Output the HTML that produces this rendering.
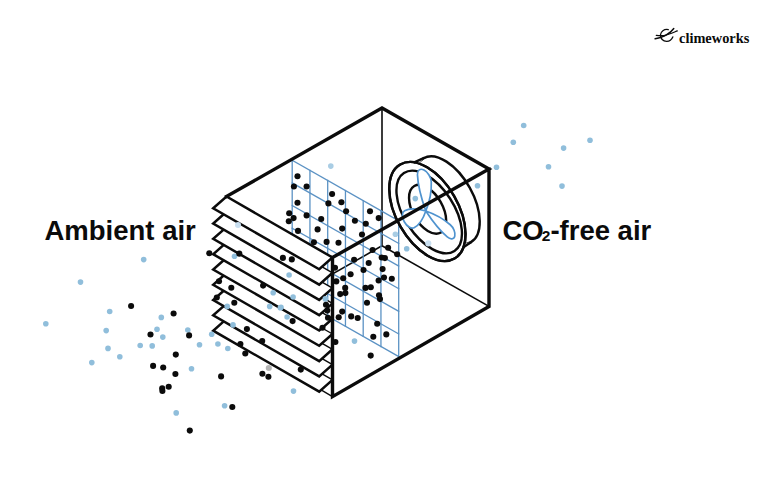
<!DOCTYPE html>
<html><head><meta charset="utf-8"><style>
html,body{margin:0;padding:0;background:#fff;}
body{width:772px;height:494px;position:relative;overflow:hidden;}
.t{position:absolute;font-family:"Liberation Sans",sans-serif;font-weight:bold;color:#0b0b0b;white-space:nowrap;line-height:1;}
#amb{left:44.5px;top:217px;font-size:27.5px;}
#co2{left:502.5px;top:217px;font-size:27.5px;}
#co2 sub{font-size:15.5px;vertical-align:baseline;position:relative;top:1px;margin:0 0 0 -2px;}
#cw{left:679px;top:30.8px;font-family:"Liberation Serif",serif;font-size:14.4px;letter-spacing:0px;}
</style></head><body>
<svg width="772" height="494" viewBox="0 0 772 494" style="position:absolute;left:0;top:0"><line x1="382" y1="108" x2="382" y2="245.8" stroke="#0b0b0b" stroke-width="1.6" /><line x1="382" y1="245.8" x2="489" y2="306.4" stroke="#0b0b0b" stroke-width="1.6" /><line x1="382" y1="245.8" x2="226.5" y2="334.2" stroke="#0b0b0b" stroke-width="1.6" /><g stroke-linecap="square"><line x1="292.2" y1="160.3" x2="292.2" y2="296.1" stroke="#5b92c4" stroke-width="1.3" /><line x1="309.95" y1="170.38" x2="309.95" y2="306.18" stroke="#5b92c4" stroke-width="1.3" /><line x1="327.7" y1="180.47" x2="327.7" y2="316.27" stroke="#5b92c4" stroke-width="1.3" /><line x1="345.45" y1="190.55" x2="345.45" y2="326.35" stroke="#5b92c4" stroke-width="1.3" /><line x1="363.2" y1="200.63" x2="363.2" y2="336.43" stroke="#5b92c4" stroke-width="1.3" /><line x1="380.95" y1="210.72" x2="380.95" y2="346.52" stroke="#5b92c4" stroke-width="1.3" /><line x1="398.7" y1="220.8" x2="398.7" y2="356.6" stroke="#5b92c4" stroke-width="1.3" /><line x1="292.2" y1="160.3" x2="398.7" y2="220.8" stroke="#5b92c4" stroke-width="1.3" /><line x1="292.2" y1="182.93" x2="398.7" y2="243.43" stroke="#5b92c4" stroke-width="1.3" /><line x1="292.2" y1="205.57" x2="398.7" y2="266.07" stroke="#5b92c4" stroke-width="1.3" /><line x1="292.2" y1="228.2" x2="398.7" y2="288.7" stroke="#5b92c4" stroke-width="1.3" /><line x1="292.2" y1="250.83" x2="398.7" y2="311.33" stroke="#5b92c4" stroke-width="1.3" /><line x1="292.2" y1="273.47" x2="398.7" y2="333.97" stroke="#5b92c4" stroke-width="1.3" /><line x1="292.2" y1="296.1" x2="398.7" y2="356.6" stroke="#5b92c4" stroke-width="1.3" /></g><g><ellipse cx="0" cy="0" rx="48.2" ry="25.9" transform="translate(447.1 200.3) rotate(60.8)" fill="#fff" stroke="#0b0b0b" stroke-width="2.4"/><ellipse cx="0" cy="0" rx="54.3" ry="30.9" transform="translate(427.4 211.5) rotate(60)" fill="#fff" stroke="#0b0b0b" stroke-width="2.4"/><path d="M414.26,162.38 L424.19,157.91 L418.26,163.35Z" fill="#fff" stroke="#fff" stroke-width="0.6"/><path d="M414.26,162.38 L424.19,157.91" stroke="#0b0b0b" stroke-width="2.4" stroke-linecap="round" fill="none"/><path d="M463.43,247.29 L470.91,242.21 L464.38,244.19Z" fill="#fff" stroke="#fff" stroke-width="0.6"/><path d="M463.43,247.29 L470.91,242.21" stroke="#0b0b0b" stroke-width="2.4" stroke-linecap="round" fill="none"/><ellipse cx="0" cy="0" rx="54.3" ry="30.9" transform="translate(427.4 211.5) rotate(60)" fill="none" stroke="#0b0b0b" stroke-width="2.4"/><ellipse cx="0" cy="0" rx="46.42" ry="24.82" transform="translate(429.2 212) rotate(57)" fill="none" stroke="#0b0b0b" stroke-width="2.4"/><ellipse cx="0" cy="0" rx="26.77" ry="14.96" transform="translate(427.6 209.3) rotate(60.3)" fill="none" stroke="#0b0b0b" stroke-width="2.4"/><g><path d="M0,0 C8,-3.6 19.2,-8 32,-8 A8,8 0 0 1 32,8 C19.2,8 8,3.6 0,0Z" transform="matrix(0.866 0.5 0 1 425.8 211) rotate(-93)" fill="#fff" stroke="#4f93cf" stroke-width="1.7" vector-effect="non-scaling-stroke"/><path d="M0,0 C6.83,-3.24 16.38,-7.2 27.3,-7.2 A7.2,7.2 0 0 1 27.3,7.2 C16.38,7.2 6.83,3.24 0,0Z" transform="matrix(0.866 0.5 0 1 425.8 211) rotate(14)" fill="#fff" stroke="#4f93cf" stroke-width="1.7" vector-effect="non-scaling-stroke"/><path d="M0,0 C6.5,-3.6 15.6,-8 26,-8 A8,8 0 0 1 26,8 C15.6,8 6.5,3.6 0,0Z" transform="matrix(0.866 0.5 0 1 425.8 211) rotate(137)" fill="#fff" stroke="#4f93cf" stroke-width="1.7" vector-effect="non-scaling-stroke"/></g></g><g><line x1="226.5" y1="334.2" x2="332.5" y2="396.6" stroke="#0b0b0b" stroke-width="1.4" /><path d="M226.5,318.9 L332.5,379.9 L319.2,391.7 L213.2,330.7Z" fill="#fff" stroke="none"/><path d="M226.5,318.9 L213.2,330.7 L319.2,391.7 L332.5,379.9" fill="none" stroke="#0b0b0b" stroke-width="2.5" stroke-linejoin="miter"/><line x1="226.5" y1="318.9" x2="332.5" y2="379.9" stroke="#0b0b0b" stroke-width="1.4" /><path d="M226.5,303.6 L332.5,364.6 L319.2,376.4 L213.2,315.4Z" fill="#fff" stroke="none"/><path d="M226.5,303.6 L213.2,315.4 L319.2,376.4 L332.5,364.6" fill="none" stroke="#0b0b0b" stroke-width="2.5" stroke-linejoin="miter"/><line x1="226.5" y1="303.6" x2="332.5" y2="364.6" stroke="#0b0b0b" stroke-width="1.4" /><path d="M226.5,288.3 L332.5,349.3 L319.2,361.1 L213.2,300.1Z" fill="#fff" stroke="none"/><path d="M226.5,288.3 L213.2,300.1 L319.2,361.1 L332.5,349.3" fill="none" stroke="#0b0b0b" stroke-width="2.5" stroke-linejoin="miter"/><line x1="226.5" y1="288.3" x2="332.5" y2="349.3" stroke="#0b0b0b" stroke-width="1.4" /><path d="M226.5,273 L332.5,334 L319.2,345.8 L213.2,284.8Z" fill="#fff" stroke="none"/><path d="M226.5,273 L213.2,284.8 L319.2,345.8 L332.5,334" fill="none" stroke="#0b0b0b" stroke-width="2.5" stroke-linejoin="miter"/><line x1="226.5" y1="273" x2="332.5" y2="334" stroke="#0b0b0b" stroke-width="1.4" /><path d="M226.5,257.7 L332.5,318.7 L319.2,330.5 L213.2,269.5Z" fill="#fff" stroke="none"/><path d="M226.5,257.7 L213.2,269.5 L319.2,330.5 L332.5,318.7" fill="none" stroke="#0b0b0b" stroke-width="2.5" stroke-linejoin="miter"/><line x1="226.5" y1="257.7" x2="332.5" y2="318.7" stroke="#0b0b0b" stroke-width="1.4" /><path d="M226.5,242.4 L332.5,303.4 L319.2,315.2 L213.2,254.2Z" fill="#fff" stroke="none"/><path d="M226.5,242.4 L213.2,254.2 L319.2,315.2 L332.5,303.4" fill="none" stroke="#0b0b0b" stroke-width="2.5" stroke-linejoin="miter"/><line x1="226.5" y1="242.4" x2="332.5" y2="303.4" stroke="#0b0b0b" stroke-width="1.4" /><path d="M226.5,227.1 L332.5,288.1 L319.2,299.9 L213.2,238.9Z" fill="#fff" stroke="none"/><path d="M226.5,227.1 L213.2,238.9 L319.2,299.9 L332.5,288.1" fill="none" stroke="#0b0b0b" stroke-width="2.5" stroke-linejoin="miter"/><line x1="226.5" y1="227.1" x2="332.5" y2="288.1" stroke="#0b0b0b" stroke-width="1.4" /><path d="M226.5,211.8 L332.5,272.8 L319.2,284.6 L213.2,223.6Z" fill="#fff" stroke="none"/><path d="M226.5,211.8 L213.2,223.6 L319.2,284.6 L332.5,272.8" fill="none" stroke="#0b0b0b" stroke-width="2.5" stroke-linejoin="miter"/><line x1="226.5" y1="211.8" x2="332.5" y2="272.8" stroke="#0b0b0b" stroke-width="1.4" /><path d="M226.5,196.5 L332.5,257.5 L319.2,269.3 L213.2,208.3Z" fill="#fff" stroke="none"/><path d="M213.2,208.3 L226.5,196.5 L332.5,257.5 L319.2,269.3 Z" fill="none" stroke="#0b0b0b" stroke-width="2.5" stroke-linejoin="miter"/></g><path d="M226.5,196.5 L382,108 L489,169 L332.5,257.5 M489,169 L489,306.4 L332.5,396.6 L332.5,257.5" fill="none" stroke="#0b0b0b" stroke-width="3.4" stroke-linejoin="miter" stroke-linecap="square"/><g><circle cx="523.7" cy="125.5" r="2.8" fill="#90bedb"/><circle cx="513.3" cy="142.2" r="2.8" fill="#90bedb"/><circle cx="496.5" cy="167.2" r="2.8" fill="#90bedb"/><circle cx="563.6" cy="148.1" r="2.8" fill="#90bedb"/><circle cx="590" cy="140.2" r="2.8" fill="#90bedb"/><circle cx="548.5" cy="166.8" r="2.8" fill="#90bedb"/><circle cx="562" cy="186.1" r="2.8" fill="#90bedb"/><circle cx="477.5" cy="185.8" r="2.8" fill="#90bedb"/><circle cx="406.7" cy="248.8" r="2.8" fill="#90bedb"/><circle cx="415.3" cy="198.6" r="2.8" fill="#90bedb"/><circle cx="289.1" cy="275" r="2.8" fill="#90bedb"/><circle cx="293.1" cy="297" r="2.8" fill="#90bedb"/><circle cx="281" cy="307.3" r="2.8" fill="#90bedb"/><circle cx="287.1" cy="317" r="2.8" fill="#90bedb"/><circle cx="325.3" cy="298.9" r="2.8" fill="#90bedb"/><circle cx="354.5" cy="341.1" r="2.8" fill="#90bedb"/><circle cx="234.5" cy="256.3" r="2.8" fill="#90bedb"/><circle cx="273.2" cy="292.8" r="2.8" fill="#90bedb"/><circle cx="227.2" cy="306.4" r="2.8" fill="#90bedb"/><circle cx="269.7" cy="306.4" r="2.8" fill="#90bedb"/><circle cx="280.3" cy="307.7" r="2.8" fill="#90bedb"/><circle cx="233" cy="324.9" r="2.8" fill="#90bedb"/><circle cx="211.7" cy="334.3" r="2.8" fill="#90bedb"/><circle cx="199.5" cy="344.7" r="2.8" fill="#90bedb"/><circle cx="217.9" cy="344" r="2.8" fill="#90bedb"/><circle cx="227.8" cy="348.5" r="2.8" fill="#90bedb"/><circle cx="191.5" cy="368.7" r="2.8" fill="#90bedb"/><circle cx="224.6" cy="405.7" r="2.8" fill="#90bedb"/><circle cx="176.2" cy="412.9" r="2.8" fill="#90bedb"/><circle cx="80.5" cy="282.1" r="2.8" fill="#90bedb"/><circle cx="143.7" cy="259.6" r="2.8" fill="#90bedb"/><circle cx="109.7" cy="311.5" r="2.8" fill="#90bedb"/><circle cx="45.8" cy="323.8" r="2.8" fill="#90bedb"/><circle cx="106.2" cy="330.6" r="2.8" fill="#90bedb"/><circle cx="108" cy="348.4" r="2.8" fill="#90bedb"/><circle cx="119.8" cy="356.7" r="2.8" fill="#90bedb"/><circle cx="91.8" cy="362.6" r="2.8" fill="#90bedb"/><circle cx="161.3" cy="317.4" r="2.8" fill="#90bedb"/><circle cx="157" cy="329.3" r="2.8" fill="#90bedb"/><circle cx="162.8" cy="337.1" r="2.8" fill="#90bedb"/><circle cx="187.8" cy="330" r="2.8" fill="#90bedb"/><circle cx="140.2" cy="345.5" r="2.8" fill="#90bedb"/><circle cx="152.2" cy="345.9" r="2.8" fill="#90bedb"/><circle cx="293.5" cy="391.1" r="2.8" fill="#90bedb"/><circle cx="330.8" cy="166.1" r="2.8" fill="#a9cde4"/><circle cx="395.4" cy="234.3" r="2.8" fill="#a9cde4"/><circle cx="428.3" cy="243.4" r="3.05" fill="#c9dff0"/><circle cx="238" cy="225" r="3.05" fill="#c9dff0"/><circle cx="268.8" cy="368" r="3.05" fill="#b5b5b5"/><circle cx="297.5" cy="176.3" r="3.05" fill="#0b0b0b"/><circle cx="293.9" cy="186.5" r="3.05" fill="#0b0b0b"/><circle cx="306.6" cy="186.5" r="3.05" fill="#0b0b0b"/><circle cx="297.5" cy="202.8" r="3.05" fill="#0b0b0b"/><circle cx="332.1" cy="194" r="3.05" fill="#0b0b0b"/><circle cx="328.4" cy="203.4" r="3.05" fill="#0b0b0b"/><circle cx="341.4" cy="202.2" r="3.05" fill="#0b0b0b"/><circle cx="346.1" cy="211.3" r="3.05" fill="#0b0b0b"/><circle cx="370" cy="211.3" r="3.05" fill="#0b0b0b"/><circle cx="289.2" cy="213.3" r="3.05" fill="#0b0b0b"/><circle cx="293.6" cy="218.1" r="3.05" fill="#0b0b0b"/><circle cx="288.8" cy="221.2" r="3.05" fill="#0b0b0b"/><circle cx="306.6" cy="215.4" r="3.05" fill="#0b0b0b"/><circle cx="321.2" cy="219" r="3.05" fill="#0b0b0b"/><circle cx="298" cy="230.9" r="3.05" fill="#0b0b0b"/><circle cx="317.6" cy="229.4" r="3.05" fill="#0b0b0b"/><circle cx="354.9" cy="220.8" r="3.05" fill="#0b0b0b"/><circle cx="365.8" cy="223.8" r="3.05" fill="#0b0b0b"/><circle cx="378.7" cy="218.1" r="3.05" fill="#0b0b0b"/><circle cx="342.2" cy="228.6" r="3.05" fill="#0b0b0b"/><circle cx="362" cy="234.5" r="3.05" fill="#0b0b0b"/><circle cx="313.9" cy="242.3" r="3.05" fill="#0b0b0b"/><circle cx="326.6" cy="241.9" r="3.05" fill="#0b0b0b"/><circle cx="338.5" cy="242.8" r="3.05" fill="#0b0b0b"/><circle cx="372.6" cy="250" r="3.05" fill="#0b0b0b"/><circle cx="354.1" cy="259.7" r="3.05" fill="#0b0b0b"/><circle cx="368.7" cy="263" r="3.05" fill="#0b0b0b"/><circle cx="282.9" cy="257.9" r="3.05" fill="#0b0b0b"/><circle cx="291.8" cy="259.4" r="3.05" fill="#0b0b0b"/><circle cx="388.1" cy="247.7" r="3.05" fill="#0b0b0b"/><circle cx="397.2" cy="254.2" r="3.05" fill="#0b0b0b"/><circle cx="381.7" cy="257.5" r="3.05" fill="#0b0b0b"/><circle cx="384.9" cy="258.1" r="3.05" fill="#0b0b0b"/><circle cx="382.6" cy="269.1" r="3.05" fill="#0b0b0b"/><circle cx="335" cy="267.8" r="3.05" fill="#0b0b0b"/><circle cx="350.6" cy="274.3" r="3.05" fill="#0b0b0b"/><circle cx="343.2" cy="278.2" r="3.05" fill="#0b0b0b"/><circle cx="336.3" cy="281.4" r="3.05" fill="#0b0b0b"/><circle cx="363.5" cy="270" r="3.05" fill="#0b0b0b"/><circle cx="378.6" cy="280.5" r="3.05" fill="#0b0b0b"/><circle cx="345.2" cy="287.9" r="3.05" fill="#0b0b0b"/><circle cx="340.2" cy="294.1" r="3.05" fill="#0b0b0b"/><circle cx="345.4" cy="293.1" r="3.05" fill="#0b0b0b"/><circle cx="365.5" cy="287.9" r="3.05" fill="#0b0b0b"/><circle cx="370.8" cy="287.3" r="3.05" fill="#0b0b0b"/><circle cx="379" cy="295.2" r="3.05" fill="#0b0b0b"/><circle cx="380" cy="299.1" r="3.05" fill="#0b0b0b"/><circle cx="367" cy="302.8" r="3.05" fill="#0b0b0b"/><circle cx="342.2" cy="311.6" r="3.05" fill="#0b0b0b"/><circle cx="338.7" cy="317.3" r="3.05" fill="#0b0b0b"/><circle cx="351.2" cy="316.4" r="3.05" fill="#0b0b0b"/><circle cx="357.7" cy="318" r="3.05" fill="#0b0b0b"/><circle cx="377.2" cy="323.8" r="3.05" fill="#0b0b0b"/><circle cx="386.3" cy="334.4" r="3.05" fill="#0b0b0b"/><circle cx="384" cy="277.5" r="3.05" fill="#0b0b0b"/><circle cx="391.8" cy="278.8" r="3.05" fill="#0b0b0b"/><circle cx="335.4" cy="342" r="3.05" fill="#0b0b0b"/><circle cx="373.3" cy="336.8" r="3.05" fill="#0b0b0b"/><circle cx="370.7" cy="355.6" r="3.05" fill="#0b0b0b"/><circle cx="322.5" cy="327.7" r="3.05" fill="#0b0b0b"/><circle cx="326" cy="304.7" r="3.05" fill="#0b0b0b"/><circle cx="327.3" cy="310.6" r="3.05" fill="#0b0b0b"/><circle cx="328" cy="317.7" r="3.05" fill="#0b0b0b"/><circle cx="239.3" cy="253.6" r="3.05" fill="#0b0b0b"/><circle cx="209.3" cy="253.2" r="3.05" fill="#0b0b0b"/><circle cx="219" cy="281.2" r="3.05" fill="#0b0b0b"/><circle cx="231.3" cy="287.7" r="3.05" fill="#0b0b0b"/><circle cx="263.1" cy="285.6" r="3.05" fill="#0b0b0b"/><circle cx="216.8" cy="297.5" r="3.05" fill="#0b0b0b"/><circle cx="234.3" cy="302.7" r="3.05" fill="#0b0b0b"/><circle cx="292.6" cy="321.1" r="3.05" fill="#0b0b0b"/><circle cx="246.9" cy="329.1" r="3.05" fill="#0b0b0b"/><circle cx="262.2" cy="341" r="3.05" fill="#0b0b0b"/><circle cx="240.4" cy="344" r="3.05" fill="#0b0b0b"/><circle cx="245.3" cy="353.5" r="3.05" fill="#0b0b0b"/><circle cx="300.8" cy="369.6" r="3.05" fill="#0b0b0b"/><circle cx="262.4" cy="373.7" r="3.05" fill="#0b0b0b"/><circle cx="268.4" cy="376.8" r="3.05" fill="#0b0b0b"/><circle cx="221.1" cy="376.4" r="3.05" fill="#0b0b0b"/><circle cx="232.3" cy="407" r="3.05" fill="#0b0b0b"/><circle cx="131.1" cy="306" r="3.05" fill="#0b0b0b"/><circle cx="173.6" cy="313.5" r="3.05" fill="#0b0b0b"/><circle cx="150.5" cy="334.5" r="3.05" fill="#0b0b0b"/><circle cx="189.1" cy="335.4" r="3.05" fill="#0b0b0b"/><circle cx="175.8" cy="354.6" r="3.05" fill="#0b0b0b"/><circle cx="153.1" cy="365.9" r="3.05" fill="#0b0b0b"/><circle cx="163.2" cy="367.5" r="3.05" fill="#0b0b0b"/><circle cx="175.4" cy="374" r="3.05" fill="#0b0b0b"/><circle cx="168.7" cy="386.8" r="3.05" fill="#0b0b0b"/><circle cx="162.2" cy="388.4" r="3.05" fill="#0b0b0b"/><circle cx="162.4" cy="391" r="3.05" fill="#0b0b0b"/><circle cx="189.8" cy="430.6" r="3.05" fill="#0b0b0b"/></g><g fill="none" stroke="#0b0b0b" stroke-linecap="round">
<path stroke-width="1.3" d="M668.3,29.6 C664,28.8 660.8,31.5 660.5,34.8 C660.3,38.5 663,41.5 666.8,41.4 C669.5,41.3 671.8,39.2 672.8,36.9"/>
<path stroke-width="1.4" d="M655.1,38.8 C659,38 663,37 666,35.2 C669,33.5 672,31 673.8,28.5"/>
<path stroke-width="1.3" d="M656.3,35.3 C659,35.8 662,35.9 664.5,35.5 C668,34.8 674,32.2 677.3,30.9"/>
</g></svg>
<div class="t" id="amb">Ambient air</div>
<div class="t" id="co2">CO<sub>2</sub>-free air</div>
<div class="t" id="cw">climeworks</div>
</body></html>
